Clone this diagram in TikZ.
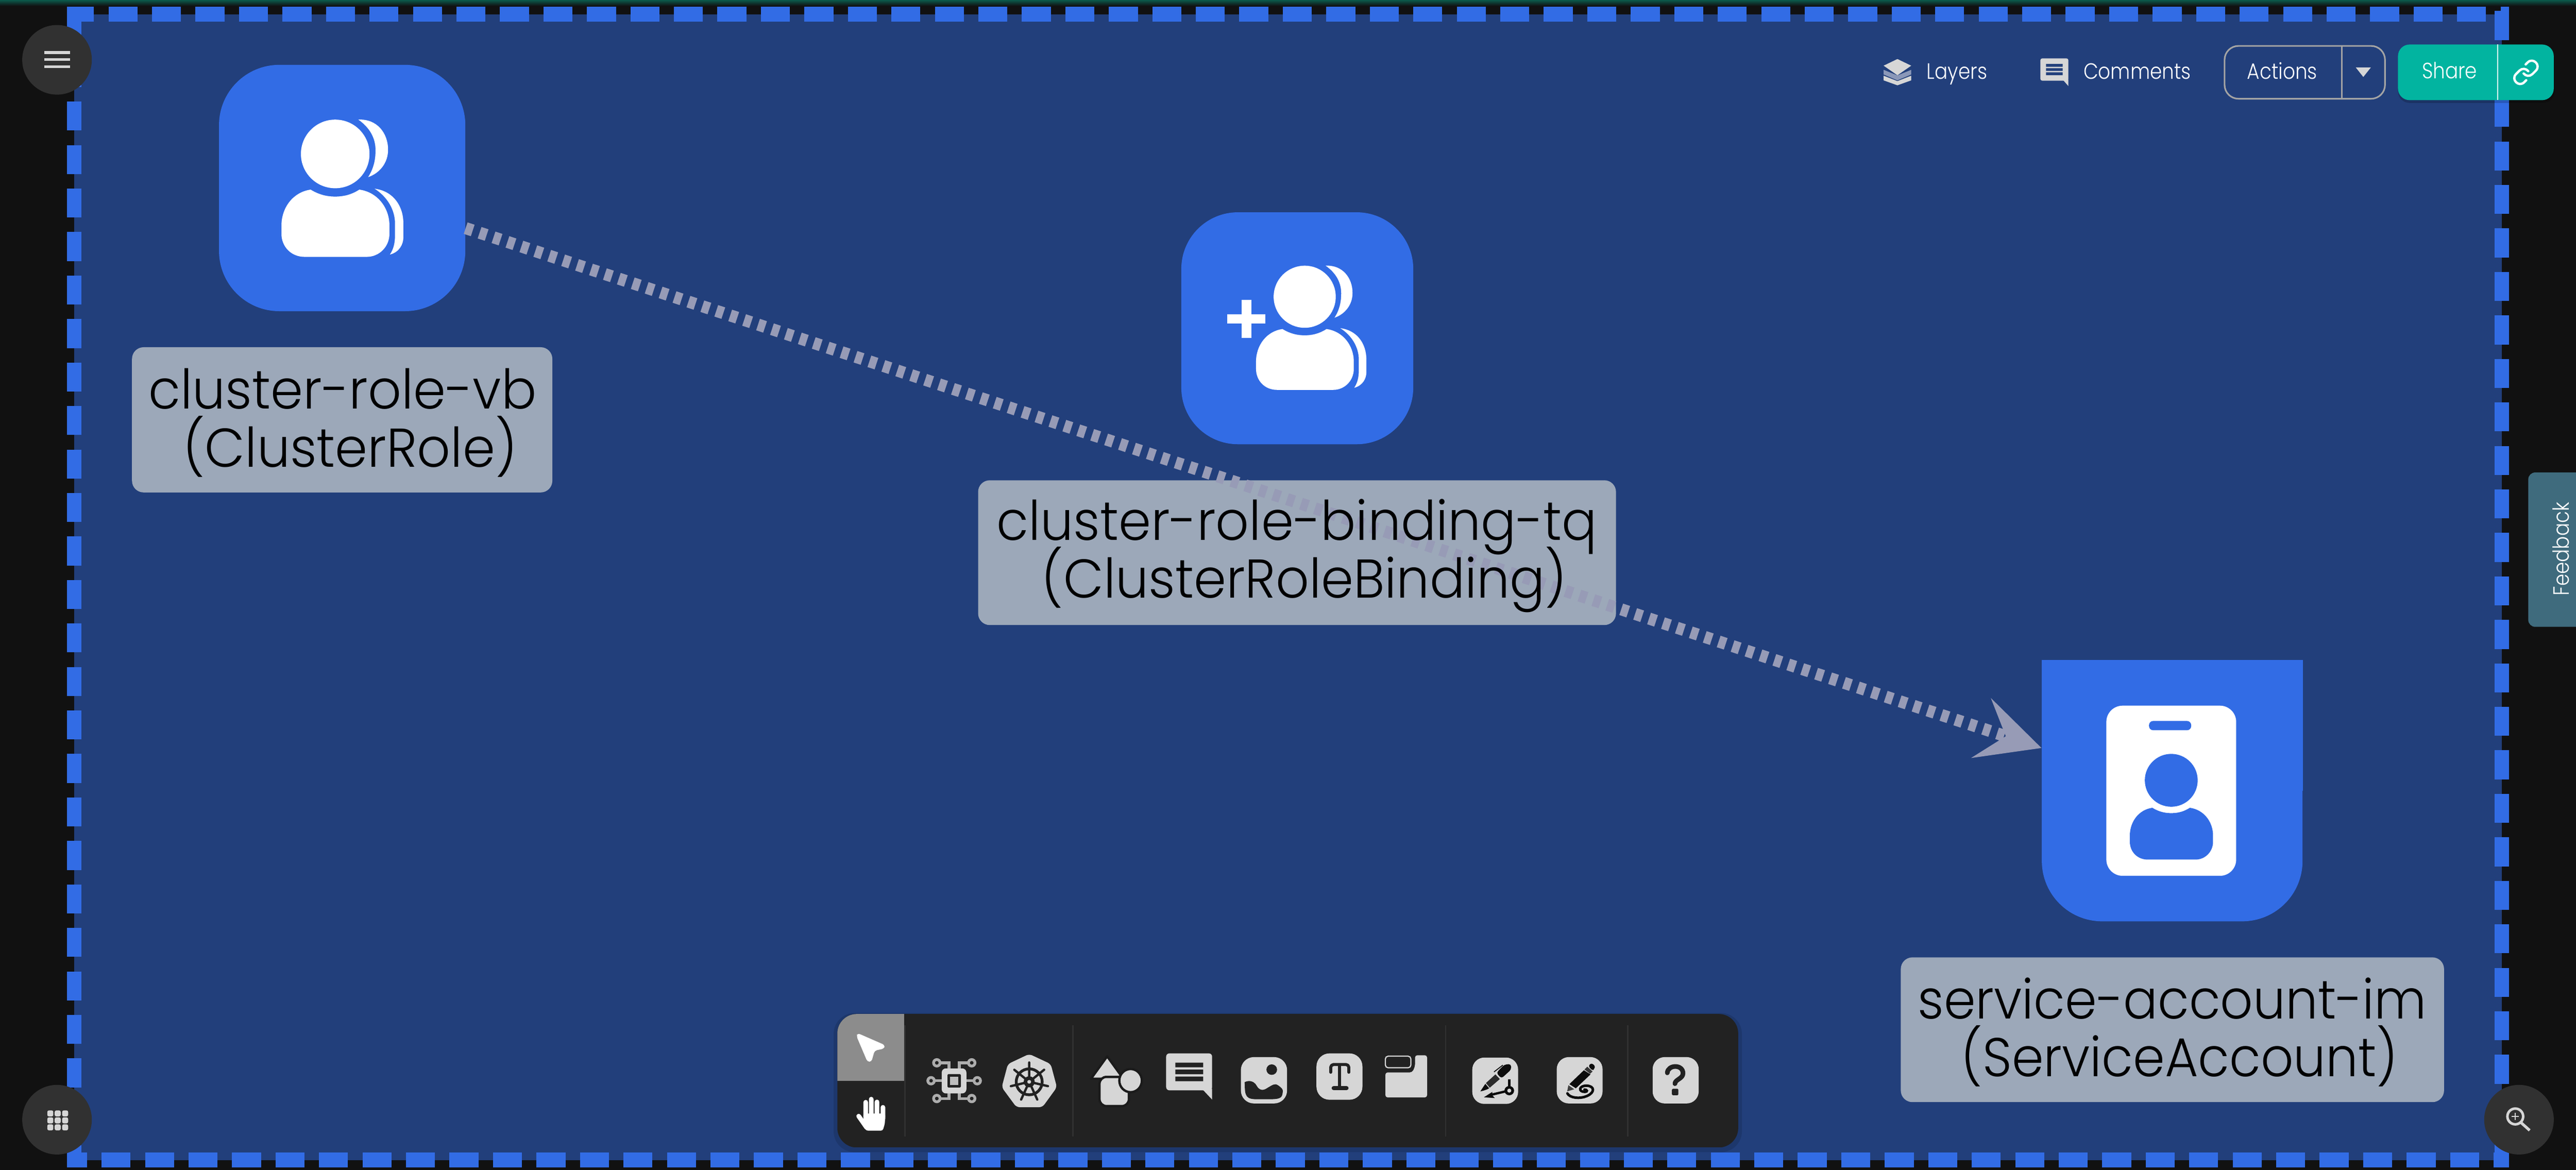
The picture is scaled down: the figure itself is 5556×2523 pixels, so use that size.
\documentclass[tikz,border=0pt]{standalone}
\usepackage{fontspec}
\setmainfont{Poppins}
\newfontfamily\labelfont[FakeStretch=.955]{Poppins Light}
\newfontfamily\labelfontnarrow[FakeStretch=.935]{Poppins Light}
\newfontfamily\uifont[FakeStretch=.87]{Poppins Light}
\usetikzlibrary{arrows.meta}
\setlength\normallineskiplimit{-100pt}
\setlength\lineskiplimit{-100pt}
\AtBeginDocument{\setlength\lineskiplimit{-100pt}}
\definecolor{canvasc}{HTML}{223F7B}
\definecolor{bluec}{HTML}{326CE5}
\definecolor{darkc}{HTML}{111111}
\definecolor{labelc}{HTML}{9CA8B9}
\definecolor{linec}{HTML}{979BB6}
\definecolor{uic}{HTML}{313131}
\definecolor{iconc}{HTML}{D6D6D6}
\definecolor{toolc}{HTML}{222222}
\definecolor{tealc}{HTML}{02B4A0}
\definecolor{fbc}{HTML}{3F6B7D}
\definecolor{wirec}{HTML}{ADADAD}
\definecolor{inkc}{HTML}{0C0C0C}
\definecolor{selc}{HTML}{8C8C8C}
\definecolor{midlayerc}{HTML}{8A97B8}
\definecolor{glowc}{HTML}{0B5A4C}
\tikzset{
  edgeband/.style={draw=bluec,line width=.32cm,dash pattern=on .625cm off .3125cm,line cap=butt},
  kindbox/.style={fill=bluec,inner sep=0pt,rounded corners=1.3cm},
  labelbox/.style={fill=labelc,inner sep=0pt,rounded corners=.25cm},
  labeltext/.style={inner sep=0pt,align=center,text=black,font=\labelfont\fontsize{33.5}{35.56}\selectfont},
  labeltextnarrow/.style={labeltext,font=\labelfontnarrow\fontsize{33.5}{35.56}\selectfont},
  conn/.style={draw=linec,line width=.26cm,dash pattern=on .16cm off .156cm,line cap=butt,-{Stealth[length=1.36cm,width=1.34cm,inset=.55cm]}},
  uitext/.style={inner sep=0pt,anchor=base west,text=white,font=\uifont\fontsize{13.6}{16}\selectfont},
  roundbtn/.style={fill=uic,circle,inner sep=0pt,minimum size=1.5cm},
  divline/.style={draw=uic,line width=.03cm},
  zsev/.style={shift={(1790,2180)},xscale=.4592,yscale=.3333},
  zeig/.style={shift={(2320,2210)},xscale=.4592,yscale=.3333},
  znin/.style={shift={(3080,2210)},xscale=.4337,yscale=.3333},
  ztwo/.style={shift={(3950,0)},xscale=1.0243,yscale=.3333},
  darkink/.style={draw=toolc,line cap=round,line join=round},
}
\newcommand{\personcore}[1]{%
  \fill[#1] (0,0) circle[radius=74];
  \fill[#1] (-53,77) .. controls (-35,88) and (-18,92) .. (0,92)
     .. controls (18,92) and (35,88) .. (52,77)
     .. controls (90,82) and (117,115) .. (117,155) -- (117,172)
     .. controls (117,200) and (95,222) .. (68,222) -- (-66,222)
     .. controls (-95,222) and (-116,200) .. (-116,172) -- (-116,155)
     .. controls (-116,115) and (-90,82) .. (-53,77) -- cycle;
}
\newcommand{\personback}{%
  \fill[white] (50,-74) .. controls (90,-76) and (114,-45) .. (114,-9)
     .. controls (114,20) and (95,42) .. (71,50)
     .. controls (84,30) and (87,10) .. (87,-8)
     .. controls (87,-35) and (74,-57) .. (50,-74) -- cycle;
  \fill[white] (85,75) .. controls (125,80) and (147,112) .. (147,150) -- (147,180)
     .. controls (147,195) and (138,212) .. (118,217)
     .. controls (126,205) and (129,192) .. (129,175) -- (129,150)
     .. controls (129,120) and (112,92) .. (85,75) -- cycle;
}
\begin{document}
\begin{tikzpicture}[x=.01cm,y=-.01cm]
\useasboundingbox (0,0) rectangle (5556,2523);
\fill[darkc] (0,0) rectangle (5556,2523);
\shade[top color=glowc,bottom color=darkc] (0,0) rectangle (5556,13);
\fill[canvasc] (160,31) rectangle (5396,2502);
% dashed frame
\draw[edgeband,dash phase=.0475cm] (145,31) -- (5411,31);
\draw[edgeband] (160,31.5) -- (160,2518);
\draw[edgeband,dash phase=.1875cm] (144,2502) -- (5411,2502);
\draw[edgeband] (5396,23.75) -- (5396,2518);
% kind nodes
\node[kindbox,minimum width=5.31cm,minimum height=5.31cm] (roleicon) at (738,405.5) {};
\node[kindbox,minimum width=5cm,minimum height=5cm,rounded corners=1.22cm] (bindingicon) at (2798,708) {};
\node[kindbox,minimum width=5.62cm,minimum height=5.63cm] (accounticon) at (4685,1705.5) {};
\fill[bluec] (accounticon.north west) rectangle (accounticon.east);
% label boxes
\node[labelbox,minimum width=9.06cm,minimum height=3.13cm] (rolebox) at (738,905.5) {};
\node[labelbox,minimum width=13.75cm,minimum height=3.12cm] (bindingbox) at (2797.5,1192) {};
\node[labelbox,minimum width=11.71cm,minimum height=3.12cm] (accountbox) at (4685.5,2221) {};
% connector
\draw[conn] (roleicon) -- (accounticon);
% icons
\begin{scope}[shift={(723,332)}]\personcore{white}\personback\end{scope}
\begin{scope}[shift={(2814,640)},scale=.905]\personcore{white}\personback\end{scope}
\fill[white] (2647,678) rectangle (2729,698);
\fill[white] (2678,647) rectangle (2699,729);
\fill[white,rounded corners=.35cm] (4543,1522) rectangle (4823,1889);
\fill[bluec,rounded corners=.09cm] (4635,1555) rectangle (4726,1575);
\begin{scope}[shift={(4683,1683)},scale=.77]\personcore{bluec}\end{scope}
% label texts
\node[labeltext] (roletext) at (739,912) {cluster-role-vb\\\hspace*{.32cm}(ClusterRole)};
\node[labeltext] (bindingtext) at (2797,1199) {cluster-role-binding-tq\\\hspace*{.32cm}(ClusterRoleBinding)};
\node[labeltextnarrow] (accounttext) at (4685,2226) {service-account-im\\\hspace*{.32cm}(ServiceAccount)};
% round buttons
\node[roundbtn] (menubtn) at (123,129) {};
\foreach \yy in {113.5,128.5,144} \fill[iconc] (96,\yy-3) rectangle (151,\yy+3);
\node[roundbtn] (gridbtn) at (123,2415) {};
\foreach \xx in {102,118,134} \foreach \yy in {2395,2410,2425}
  \fill[iconc,rounded corners=.035cm] (\xx,\yy) rectangle (\xx+13,\yy+13);
\node[roundbtn] (zoombtn) at (5433,2415) {};
\draw[iconc,line width=.055cm] (5425,2408) circle[radius=17];
\draw[iconc,line width=.06cm] (5437,2421) -- (5456,2438);
\draw[iconc,line width=.025cm] (5417,2408) -- (5433,2408) (5425,2400) -- (5425,2416);
% top bar
\begin{scope}[ztwo]
  \fill[iconc] (110,490) -- (139,525) -- (168,490) -- (168,520) -- (139,552) -- (110,520) -- cycle;
  \fill[midlayerc] (110,452) -- (139,488) -- (168,452) -- (168,482) -- (139,520) -- (110,482) -- cycle;
  \fill[iconc] (139,382) -- (168,425) -- (139,487) -- (110,425) -- cycle;
  \fill[iconc,rounded corners=.04cm] (440,378) rectangle (499,522);
  \fill[iconc] (487,515) -- (499,557) -- (499,515) -- cycle;
  \fill[canvasc] (452,414) rectangle (487,432) (452,441) rectangle (487,459) (452,468) rectangle (487,486);
  \fill[iconc] (1104,436) -- (1136,436) -- (1120,498) -- cycle;
\end{scope}
\node[uitext] (layerstext) at (4155,171) {Layers};
\node[uitext] (commentstext) at (4493,171) {Comments};
\draw[wirec!95!black,line width=.035cm,rounded corners=.3cm] (4798,99) rectangle (5144,213);
\draw[wirec!95!black,line width=.025cm] (5051,99) -- (5051,213);
\node[uitext] (actionstext) at (4846,171) {Actions};
\fill[black,opacity=.18,rounded corners=.25cm] (5172,102) rectangle (5510,222);
\fill[tealc,rounded corners=.25cm] (5172,96) rectangle (5508,216);
\draw[white,line width=.03cm] (5387,96) -- (5387,216);
\node[uitext] (sharetext) at (5223,170) {Share};
\begin{scope}[shift={(5418,126)},scale=2.5]
  \draw[white,line width=.05cm,line cap=round,line join=round]
    (10,13) .. controls (11.82,15.43) and (15.39,15.69) .. (17.54,13.54) -- (20.54,10.54)
    .. controls (25.25,5.83) and (18.18,-1.24) .. (13.47,3.47) -- (11.75,5.18);
  \draw[white,line width=.05cm,line cap=round,line join=round]
    (14,11) .. controls (12.18,8.57) and (8.61,8.31) .. (6.46,10.46) -- (3.46,13.46)
    .. controls (-1.25,18.17) and (5.82,25.24) .. (10.53,20.53) -- (12.25,18.82);
\end{scope}
% feedback
\begin{scope}
  \clip (5400,1000) rectangle (5556,1370);
  \fill[fbc,rounded corners=.15cm] (5453,1019) rectangle (5600,1352);
\end{scope}
\node[inner sep=0pt,anchor=base,rotate=90,text=white,font=\uifont\fontsize{13.6}{16}\selectfont] (feedbacktext) at (5541,1184) {Feedback};
% toolbar
\fill[black,opacity=.12,rounded corners=.45cm] (1798,2185) rectangle (3757,2485);
\begin{scope}
  \clip[rounded corners=.42cm] (1806,2187) rectangle (3749,2475);
  \fill[toolc] (1806,2187) rectangle (3749,2475);
  \fill[selc] (1806,2187) rectangle (1950,2331);
\end{scope}
\foreach \xx in {1952,2314,3118,3511} \draw[divline] (\xx,2211) -- (\xx,2451);
\begin{scope}[zsev]
  % pointer
  \fill[white,rounded corners=.05cm] (130,145) -- (258,222) -- (255,245) -- (210,258) -- (195,330) -- (176,330) -- (125,165) -- cycle;
  % hand
  \fill[white,rounded corners=.04cm] (157,665) -- (260,665) -- (258,730) -- (248,776) -- (170,776) -- (157,745) -- cycle;
  \draw[white,line width=.1cm,line cap=round] (168,592) -- (168,690) (194,572) -- (194,670) (221,590) -- (221,670) (249,625) -- (249,700) (135,682) -- (172,755);
  % chip
  \draw[wirec,line width=.06cm] (525,453) -- (497,453) (641,453) -- (670,453)
     (502,337) -- (559,337) -- (559,373) (666,337) -- (608,337) -- (608,373)
     (559,535) -- (559,568) -- (502,568) (608,535) -- (608,568) -- (666,568);
  \foreach \pp in {(475,453),(692,453),(502,337),(666,337),(502,568),(666,568)}
    \draw[wirec,line width=.06cm,fill=toolc] \pp circle[x radius=15.2,y radius=21];
  \fill[iconc,rounded corners=.09cm] (525,373) rectangle (641,535);
  \fill[toolc,rounded corners=.02cm] (552,410) rectangle (615,497);
  \fill[wirec!110!black] (565,427) rectangle (603,480);
  % helm
  \fill[iconc,rounded corners=.07cm] (936,280) -- (1037,345) -- (1066,495) -- (998,624) -- (876,624) -- (807,495) -- (836,345) -- cycle;
  \draw[toolc,line width=.06cm] (936,460) circle[x radius=61,y radius=84];
  \draw[darkink,line width=.05cm] (936,460) -- (936,335) (936,460) -- (866,382) (936,460) -- (1006,382) (936,460) -- (850,488) (936,460) -- (1024,488) (936,460) -- (898,575) (936,460) -- (974,575);
  \fill[toolc] (936,460) circle[x radius=26,y radius=36];
  \fill[iconc] (936,460) circle[x radius=9,y radius=12];
\end{scope}
\begin{scope}[zeig]
  % shapes
  \filldraw[fill=iconc,draw=black!20!toolc,line width=.05cm,line join=round] (148,205) -- (224,350) -- (72,350) -- cycle;
  \filldraw[fill=iconc,draw=black!20!toolc,line width=.05cm,rounded corners=.15cm] (112,338) rectangle (250,527);
  \filldraw[fill=iconc,draw=black!20!toolc,line width=.05cm] (258,362) circle[x radius=53,y radius=75];
  % bubble
  \fill[iconc,rounded corners=.07cm] (425,186) rectangle (641,425);
  \fill[iconc] (560,415) -- (600,425) -- (641,485) -- (641,415) -- cycle;
  \fill[toolc] (468,246) rectangle (599,276) (468,291) rectangle (599,321) (468,336) rectangle (599,366);
  % image
  \fill[iconc,rounded corners=.28cm] (776,210) rectangle (993,510);
  \fill[toolc] (921,291) circle[x radius=25,y radius=34];
  \fill[toolc] (794,372) .. controls (815,358) and (838,365) .. (850,395) .. controls (862,425) and (880,430) .. (900,410)
    .. controls (925,390) and (935,378) .. (950,392) .. controls (965,405) and (975,420) .. (973,432)
    .. controls (970,475) and (965,483) .. (900,483) -- (860,483) .. controls (800,483) and (794,470) .. (794,372) -- cycle;
  % text tool
  \fill[iconc,rounded corners=.28cm] (1131,186) rectangle (1347,486);
  \draw[darkink,line width=.065cm,rounded corners=.06cm] (1198,308) -- (1198,258) -- (1283,258) -- (1283,308);
  \draw[darkink,line width=.065cm] (1240,262) -- (1240,410);
  \draw[darkink,line width=.09cm] (1212,411) -- (1272,411);
\end{scope}
% card tool
\draw[iconc,line width=.025cm,rounded corners=.06cm] (2988,2278) rectangle (3043,2303);
\fill[iconc,rounded corners=.05cm] (2988,2313) -- (3046,2313) -- (3052,2300) -- (3052,2276) -- (3078,2276) -- (3078,2367) -- (2988,2367) -- cycle;
\begin{scope}[znin]
  % pen with arrow
  \fill[iconc,rounded corners=.26cm] (220,213) rectangle (448,513);
  \fill[inkc] (260,432) -- (285,383) -- (304,412) .. controls (290,422) and (275,428) .. (260,432) -- cycle;
  \fill[black!80!iconc] (288,378) -- (335,322) -- (357,352) -- (307,408) -- cycle;
  \fill[inkc,rounded corners=.05cm] (340,312) -- (365,348) -- (414,290) -- (412,255) -- (380,258) -- cycle;
  \draw[inkc,line width=.02cm] (328,306) -- (372,262);
  \fill[inkc] (398,354) rectangle (410,400);
  \fill[inkc] (404,427) circle[x radius=24,y radius=30];
  \fill[iconc] (404,427) circle[x radius=10,y radius=13];
  \draw[inkc,line width=.05cm] (385,432) -- (310,455);
  \fill[inkc] (278,470) -- (320,435) -- (318,455) -- (332,475) -- cycle;
  % pen with spiral
  \fill[iconc,rounded corners=.26cm] (640,210) rectangle (868,510);
  \fill[inkc] (703,385) -- (775,295) -- (808,322) -- (735,412) -- cycle;
  \fill[black!75!iconc] (778,290) -- (792,272) -- (818,303) -- (806,318) -- cycle;
  \fill[inkc,rounded corners=.04cm] (797,268) -- (812,248) -- (832,268) -- (826,288) -- (818,298) -- cycle;
  \fill[black!70!iconc] (692,432) -- (698,392) -- (727,418) -- cycle;
  \draw[inkc,line width=.055cm,line cap=round] (693,445) .. controls (705,475) and (755,482) .. (790,462)
    .. controls (830,440) and (830,398) .. (790,395) .. controls (750,393) and (745,435) .. (780,435)
    .. controls (795,435) and (792,420) .. (778,420);
  % help
  \fill[iconc,rounded corners=.26cm] (1117,210) rectangle (1346,510);
  \draw[darkink,line width=.1cm] (1190,312) .. controls (1192,258) and (1268,255) .. (1268,315)
    .. controls (1268,350) and (1228,355) .. (1228,382);
  \fill[toolc,rounded corners=.02cm] (1213,415) rectangle (1245,457);
\end{scope}
\end{tikzpicture}
\end{document}
